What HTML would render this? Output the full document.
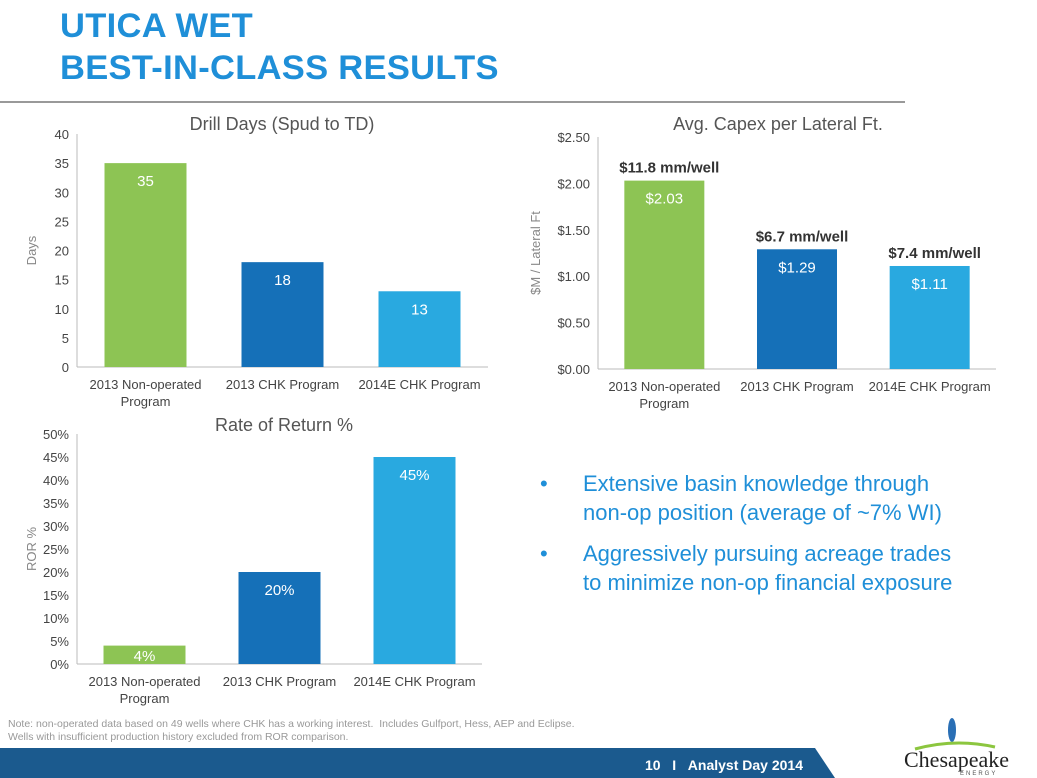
<!DOCTYPE html>
<html><head><meta charset="utf-8"><style>
body{margin:0;width:1037px;height:778px;background:#fff;font-family:"Liberation Sans",sans-serif;position:relative;overflow:hidden}
.t{position:absolute;left:60px;color:#1f8fd8;font-weight:bold;font-size:34.5px;line-height:36px;letter-spacing:0.3px}
svg{position:absolute;left:0;top:0}
</style></head><body>
<div class="t" style="top:8px">UTICA WET</div>
<div class="t" style="top:50px">BEST-IN-CLASS RESULTS</div>
<div style="position:absolute;left:0;top:101px;width:905px;height:2px;background:#999"></div>
<svg id="s" width="1037" height="778" font-family="Liberation Sans, sans-serif"></svg>
<div style="position:absolute;left:540px;top:469px;width:490px;color:#1f8fd8;font-size:22px;line-height:29px;white-space:nowrap">
<div style="position:relative;padding-left:43px;margin-bottom:12px"><span style="position:absolute;left:0">•</span>Extensive basin knowledge through<br>non-op position (average of ~7% WI)</div>
<div style="position:relative;padding-left:43px"><span style="position:absolute;left:0">•</span>Aggressively pursuing acreage trades<br>to minimize non-op financial exposure</div>
</div>
<div style="position:absolute;left:8px;top:718px;font-size:10.5px;color:#999;line-height:13px">Note: non-operated data based on 49 wells where CHK has a working interest.&nbsp; Includes Gulfport, Hess, AEP and Eclipse.<br>Wells with insufficient production history excluded from ROR comparison.</div>
<svg width="1037" height="778" style="pointer-events:none"><polygon points="0,748 815,748 835,778 0,778" fill="#1b5a8e"/>
<text x="645" y="770" fill="#fff" font-size="14" font-weight="bold" font-family="Liberation Sans, sans-serif">10&#160;&#160; I &#160;&#160;Analyst Day 2014</text>
<ellipse cx="952" cy="730" rx="4" ry="12" fill="#2a6fb5"/>
<path d="M915 749 Q955 738 995 747" stroke="#8cc63f" stroke-width="3" fill="none"/>
<text x="904" y="767" font-size="22" font-family="Liberation Serif, serif" fill="#222">Chesapeake</text>
<text x="960" y="775" font-size="6" fill="#555" letter-spacing="2" font-family="Liberation Sans, sans-serif">ENERGY</text></svg>
<script>
const cats=["2013 Non-operated|Program","2013 CHK Program","2014E CHK Program"];
const colors=["#8dc454","#1570b8","#29a9e0"];
const drillDays=[35,18,13];
const drillTicks=[0,5,10,15,20,25,30,35,40];
const capex=[2.03,1.29,1.11];
const capexTicks=[0,0.5,1,1.5,2,2.5];
const capexWell=["$11.8 mm/well","$6.7 mm/well","$7.4 mm/well"];
const ror=[4,20,45];
const rorTicks=[0,5,10,15,20,25,30,35,40,45,50];
const NS="http://www.w3.org/2000/svg",S=document.getElementById('s');
function el(t,a,txt){const e=document.createElementNS(NS,t);for(const k in a)e.setAttribute(k,a[k]);if(txt!=null)e.textContent=txt;S.appendChild(e);return e;}
function chart(o){
 const y=v=>o.y0-(v-o.min)/(o.max-o.min)*(o.y0-o.y1);
 let e=el('text',{x:o.tx,y:o.ty,'font-size':18,fill:'#555','text-anchor':'middle'},o.title);
 
 
 o.ticks.forEach(t=>{e=el('text',{x:o.ax-8,y:y(t)+5,'font-size':13,fill:'#444','text-anchor':'end'},o.fmt(t));
  
  });
 e=el('line',{x1:o.ax,x2:o.ax,y1:o.y1,y2:o.y0,stroke:'#bbb'});
 
 
 e=el('line',{x1:o.ax,x2:o.ax+o.w,y1:o.y0,y2:o.y0,stroke:'#bbb'});
 
 
 e=el('text',{x:0,y:0,'font-size':13,fill:'#888','text-anchor':'middle',transform:`translate(${o.ylx},${(o.y0+o.y1)/2}) rotate(-90)`},o.ylabel);
 
 
 const step=o.w/cats.length;
 o.vals.forEach((v,i)=>{const cx=o.ax+step*(i+0.5),yt=y(v);
  e=el('rect',{x:cx-o.bw/2,y:yt,width:o.bw,height:o.y0-yt,fill:colors[i]});
  
  
  const ly=(o.y0-yt)<30?(yt+o.y0)/2+6:yt+23;
  e=el('text',{x:cx,y:ly,'font-size':15,fill:'#fff','text-anchor':'middle'},o.vf(v));
  
  
  if(o.top){e=el('text',{x:cx+5,y:yt-8,'font-size':15,'font-weight':'bold',fill:'#333','text-anchor':'middle'},o.top[i]);
   
   }
  cats[i].split('|').forEach((ln,j)=>{e=el('text',{x:cx,y:o.y0+22+j*17,'font-size':13,fill:'#444','text-anchor':'middle'},ln);
   
   });
 });
}
chart({name:'drill-days',title:'Drill Days (Spud to TD)',tx:282,ty:130,ax:77,w:411,y0:367,y1:134,min:0,max:40,ticks:drillTicks,fmt:t=>t,vals:drillDays,vf:v=>v,bw:82,ylabel:'Days',ylx:36});
chart({name:'capex',title:'Avg. Capex per Lateral Ft.',tx:778,ty:130,ax:598,w:398,y0:369,y1:137,min:0,max:2.5,ticks:capexTicks,fmt:t=>'$'+t.toFixed(2),vals:capex,vf:v=>'$'+v.toFixed(2),bw:80,ylabel:'$M / Lateral Ft',ylx:540,top:capexWell});
chart({name:'ror',title:'Rate of Return %',tx:284,ty:431,ax:77,w:405,y0:664,y1:434,min:0,max:50,ticks:rorTicks,fmt:t=>t+'%',vals:ror,vf:v=>v+'%',bw:82,ylabel:'ROR %',ylx:36});
</script>
</body></html>
